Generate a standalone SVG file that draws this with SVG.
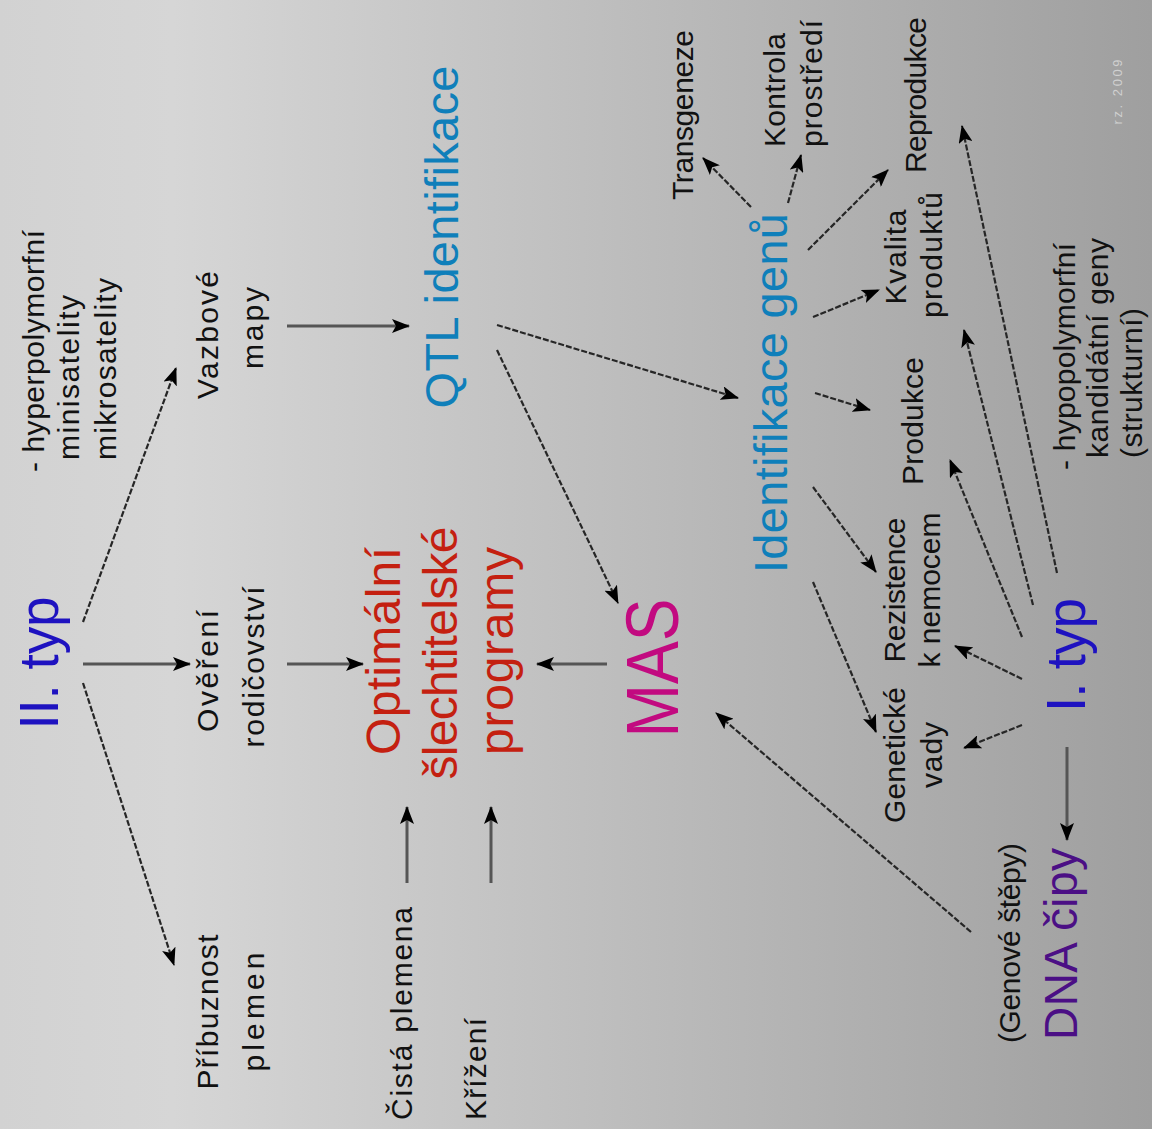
<svg xmlns="http://www.w3.org/2000/svg" width="1152" height="1129" viewBox="0 0 1152 1129">
<defs>
<linearGradient id="bg" x1="0" y1="0" x2="1" y2="0">
<stop offset="0" stop-color="#d2d2d2"/>
<stop offset="0.15" stop-color="#d6d6d6"/>
<stop offset="1" stop-color="#9f9f9f"/>
</linearGradient>
<marker id="ah" viewBox="0 0 18 14" refX="17" refY="7" markerWidth="18" markerHeight="14" markerUnits="userSpaceOnUse" orient="auto">
<path d="M0,0 L18,7 L0,14 L4,7 z" fill="#000"/>
</marker>
<style>
text{font-family:"Liberation Sans",Arial,sans-serif;}
.s{font-size:30px;fill:#111;}
.xs{font-size:13px;fill:#d0d0d0;}
.typ{font-size:55px;fill:#1e12c0;}
.blue{fill:#0f7fba;font-size:47px;}
.red{fill:#c42010;font-size:48px;}
.mag{fill:#c20a80;font-size:74px;}
.pur{fill:#4b0f85;font-size:46px;}
.m{text-anchor:middle;}
.st{text-anchor:start;}
.sol{stroke:#555;stroke-width:3;fill:none;marker-end:url(#ah);}
.dia{stroke:#262626;stroke-width:2.2;fill:none;stroke-dasharray:6 2;marker-end:url(#ah);}
</style>
</defs>
<rect width="1152" height="1129" fill="url(#bg)"/>
<g id="connectors">
<line class="dia" x1="83" y1="622" x2="176" y2="368"/>
<line class="sol" x1="83" y1="664" x2="190" y2="664"/>
<line class="dia" x1="83" y1="683" x2="174" y2="965"/>
<line class="sol" x1="287" y1="326" x2="409" y2="326"/>
<line class="sol" x1="287" y1="664" x2="363" y2="664"/>
<line class="sol" x1="407" y1="883" x2="407" y2="807"/>
<line class="sol" x1="491" y1="883" x2="491" y2="807"/>
<line class="sol" x1="607" y1="664" x2="537" y2="664"/>
<line class="dia" x1="497" y1="350" x2="618" y2="603"/>
<line class="dia" x1="497" y1="325" x2="738" y2="398"/>
<line class="dia" x1="751" y1="207" x2="703" y2="158"/>
<line class="dia" x1="788" y1="203" x2="801" y2="155"/>
<line class="dia" x1="808" y1="250" x2="888" y2="170"/>
<line class="dia" x1="813" y1="317" x2="879" y2="290"/>
<line class="dia" x1="815" y1="393" x2="870" y2="410"/>
<line class="dia" x1="813" y1="487" x2="876" y2="572"/>
<line class="dia" x1="813" y1="582" x2="876" y2="732"/>
<line class="dia" x1="1022" y1="725" x2="964" y2="748"/>
<line class="dia" x1="1022" y1="679" x2="955" y2="646"/>
<line class="dia" x1="1022" y1="637" x2="950" y2="460"/>
<line class="dia" x1="1033" y1="605" x2="964" y2="330"/>
<line class="dia" x1="1057" y1="573" x2="962" y2="126"/>
<line class="sol" x1="1067" y1="747" x2="1067" y2="840"/>
<line class="dia" x1="971" y1="932" x2="716" y2="713"/>
</g>
<g id="n-typ2"><text class="typ m" transform="translate(58,663) rotate(-90)" textLength="133">II. typ</text></g>
<g id="n-hyper">
<text class="s st" transform="translate(44,472) rotate(-90)" textLength="242">- hyperpolymorfní</text>
<text class="s st" transform="translate(79,460) rotate(-90)" textLength="165">minisatelity</text>
<text class="s st" transform="translate(116,460) rotate(-90)" textLength="182">mikrosatelity</text>
</g>
<g id="n-vazbove">
<text class="s m" transform="translate(218,335) rotate(-90)" textLength="128">Vazbové</text>
<text class="s m" transform="translate(263,328) rotate(-90)" textLength="82">mapy</text>
</g>
<g id="n-overeni">
<text class="s m" transform="translate(218,671) rotate(-90)" textLength="122">Ověření</text>
<text class="s m" transform="translate(264,667) rotate(-90)" textLength="161">rodičovství</text>
</g>
<g id="n-pribuznost">
<text class="s m" transform="translate(218,1012) rotate(-90)" textLength="155">Příbuznost</text>
<text class="s m" transform="translate(264,1012) rotate(-90)" textLength="119">plemen</text>
</g>
<g id="n-cista"><text class="s st" transform="translate(412,1120) rotate(-90)" textLength="213">Čistá plemena</text></g>
<g id="n-krizeni"><text class="s st" transform="translate(486,1120) rotate(-90)" textLength="102">Křížení</text></g>
<g id="n-optimalni">
<text class="red m" transform="translate(400,651) rotate(-90)" textLength="208">Optimální</text>
<text class="red m" transform="translate(457,653) rotate(-90)" textLength="253">šlechtitelské</text>
<text class="red m" transform="translate(513,651) rotate(-90)" textLength="208">programy</text>
</g>
<g id="n-mas"><text class="mag m" transform="translate(678,668) rotate(-90)" textLength="139" lengthAdjust="spacingAndGlyphs">MAS</text></g>
<g id="n-qtl"><text class="blue m" transform="translate(458,237) rotate(-90)" textLength="343">QTL identifikace</text></g>
<g id="n-identifikace"><text class="blue m" transform="translate(787,393) rotate(-90)" textLength="360">Identifikace genů</text></g>
<g id="n-transgeneze"><text class="s m" transform="translate(693,115) rotate(-90)" textLength="170">Transgeneze</text></g>
<g id="n-kontrola">
<text class="s st" transform="translate(785,147) rotate(-90)" textLength="114">Kontrola</text>
<text class="s st" transform="translate(822,147) rotate(-90)" textLength="127">prostředí</text>
</g>
<g id="n-reprodukce"><text class="s m" transform="translate(926,95) rotate(-90)" textLength="156">Reprodukce</text></g>
<g id="n-kvalita">
<text class="s m" transform="translate(906,257) rotate(-90)" textLength="95">Kvalita</text>
<text class="s m" transform="translate(942,255) rotate(-90)" textLength="126">produktů</text>
</g>
<g id="n-produkce"><text class="s m" transform="translate(923,421) rotate(-90)" textLength="128">Produkce</text></g>
<g id="n-rezistence">
<text class="s m" transform="translate(905,590) rotate(-90)" textLength="145">Rezistence</text>
<text class="s m" transform="translate(940,590) rotate(-90)" textLength="155">k nemocem</text>
</g>
<g id="n-geneticke">
<text class="s m" transform="translate(905,755) rotate(-90)" textLength="136">Genetické</text>
<text class="s m" transform="translate(942,755) rotate(-90)" textLength="66">vady</text>
</g>
<g id="n-typ1"><text class="typ m" transform="translate(1085,655) rotate(-90)" textLength="114">I. typ</text></g>
<g id="n-hypo">
<text class="s st" transform="translate(1075,470) rotate(-90)" textLength="227">- hypopolymorfní</text>
<text class="s st" transform="translate(1108,458) rotate(-90)" textLength="220">kandidátní geny</text>
<text class="s st" transform="translate(1142,458) rotate(-90)" textLength="150">(strukturní)</text>
</g>
<g id="n-genove"><text class="s m" transform="translate(1020,943) rotate(-90)" textLength="200">(Genové štěpy)</text></g>
<g id="n-dna"><text class="pur m" transform="translate(1077,944) rotate(-90)" textLength="192">DNA čipy</text></g>
<g id="n-note"><text class="xs m" transform="translate(1122,92) rotate(-90)" textLength="65">rz. 2009</text></g>
</svg>
